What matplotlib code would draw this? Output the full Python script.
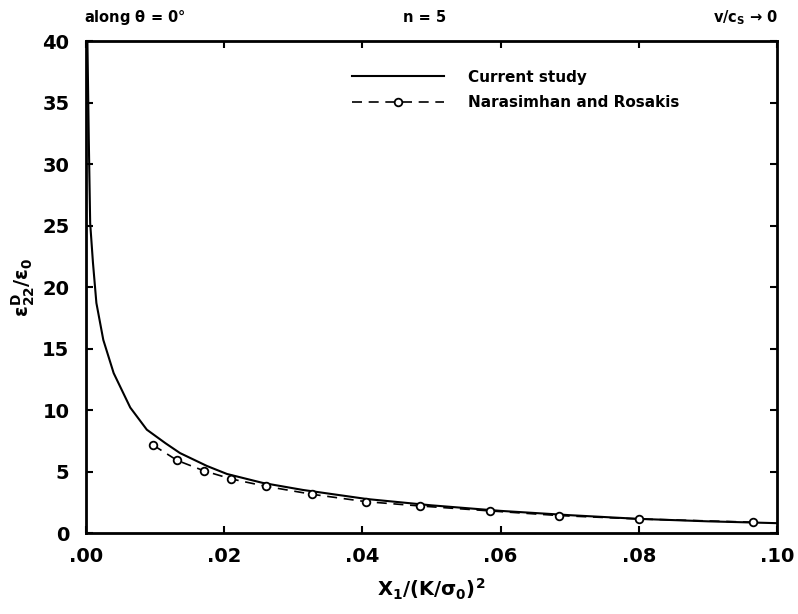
import matplotlib
matplotlib.use("Agg")
import matplotlib.pyplot as plt

plt.rcParams['font.family'] = ['DejaVu Sans']
plt.rcParams['font.weight'] = 'bold'
plt.rcParams['mathtext.fontset'] = 'dejavusans'
plt.rcParams['mathtext.default'] = 'bf'

# current study (solid curve)
x_cur = [0.0002, 0.0004, 0.0006, 0.001, 0.0015, 0.0025, 0.004, 0.0064, 0.0088,
         0.0115, 0.0136, 0.0175, 0.0204, 0.0256, 0.0314, 0.0407, 0.05, 0.06,
         0.07, 0.08, 0.09, 0.10]
y_cur = [40.0, 32.0, 25.2, 22.0, 18.7, 15.7, 13.0, 10.2, 8.4,
         7.3, 6.5, 5.45, 4.8, 4.07, 3.5, 2.76, 2.25, 1.8,
         1.45, 1.15, 0.95, 0.8]

# Narasimhan and Rosakis (circles, dashed)
x_nr = [0.0097, 0.0132, 0.0171, 0.021, 0.026, 0.0327, 0.0405, 0.0483,
        0.0584, 0.0684, 0.080, 0.0965]
y_nr = [7.15, 5.9, 5.05, 4.4, 3.8, 3.15, 2.55, 2.2, 1.8, 1.42, 1.14, 0.88]

x_ticks = [0.0, 0.02, 0.04, 0.06, 0.08, 0.10]
x_labels = ['.00', '.02', '.04', '.06', '.08', '.10']
y_ticks = [0, 5, 10, 15, 20, 25, 30, 35, 40]

fig = plt.figure(figsize=(7.98, 6.14), dpi=100)
ax = fig.add_axes([0.1078, 0.1319, 0.8659, 0.8013])

ax.plot(x_cur, y_cur, color='black', linewidth=1.5, label='Current study')
ax.plot(x_nr, y_nr, color='black', linewidth=1.2, linestyle=(0, (6, 4)),
        marker='o', markersize=5.5, markerfacecolor='white',
        markeredgecolor='black', markeredgewidth=1.3,
        label='Narasimhan and Rosakis')

ax.set_xlim(0, 0.10)
ax.set_ylim(0, 40)
ax.set_xticks(x_ticks)
ax.set_xticklabels(x_labels)
ax.set_yticks(y_ticks)
ax.tick_params(direction='in', length=5, width=1.5, top=True, right=True,
               labelsize=14, pad=10)
ax.tick_params(axis='y', pad=12)
for s in ax.spines.values():
    s.set_linewidth(2)

ax.set_xlabel(r'$\mathbf{X_1/(K/\sigma_0)^2}$', fontsize=14, labelpad=8)
ax.set_ylabel(r'$\epsilon^{D}_{22}/\epsilon_0$', fontsize=14, labelpad=4)

ax.legend(loc='upper left', bbox_to_anchor=(0.365, 0.97), frameon=False,
          fontsize=11, handlelength=6.0, handletextpad=1.6, labelspacing=0.7)

fig.text(0.105, 0.972, r'along $\theta$ = 0°', fontsize=10.5, ha='left', va='center')
fig.text(0.505, 0.972, 'n = 5', fontsize=10.5, ha='left', va='center')
fig.text(0.975, 0.972, r'v/c$_S$ → 0', fontsize=10.5, ha='right', va='center')

fig.savefig('out.png', dpi=100)
